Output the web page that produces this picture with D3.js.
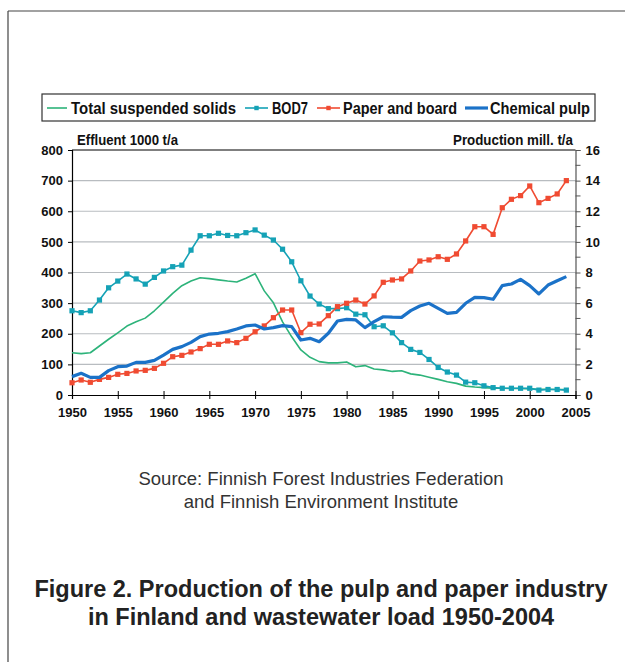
<!DOCTYPE html>
<html>
<head>
<meta charset="utf-8">
<script src="https://cdn.jsdelivr.net/npm/d3@7"></script>
<style>
  body { margin: 0; background: #fff; }
  svg { display: block; }
  text { font-family: "Liberation Sans", Arial, sans-serif; }
</style>
</head>
<body>
<svg id="canvas" width="625" height="662"></svg>
<script>
// years on the x axis
let years = [1950, 1951, 1952, 1953, 1954, 1955, 1956, 1957, 1958, 1959,
  1960, 1961, 1962, 1963, 1964, 1965, 1966, 1967, 1968, 1969,
  1970, 1971, 1972, 1973, 1974, 1975, 1976, 1977, 1978, 1979,
  1980, 1981, 1982, 1983, 1984, 1985, 1986, 1987, 1988, 1989,
  1990, 1991, 1992, 1993, 1994, 1995, 1996, 1997, 1998, 1999,
  2000, 2001, 2002, 2003, 2004]

// effluent, 1000 t/a (left axis)
let totalSuspendedSolids = [138, 135, 138, 160, 182, 203, 225, 239, 251, 275,
  303, 332, 357, 372, 383, 380, 376, 372, 369, 381,
  396, 340, 301, 239, 190, 147, 123, 109, 105, 105,
  108, 92, 96, 85, 82, 77, 79, 69, 65, 58,
  51, 43, 38, 29, 26, 24, 22, 22, 21, 21,
  20, 19, 19, 18, 18]

let bod7 = [275, 269, 275, 310, 350, 372, 395, 379, 362, 384,
  405, 419, 424, 473, 520, 520, 528, 521, 520, 530,
  539, 522, 506, 476, 435, 373, 323, 297, 282, 282,
  285, 264, 262, 223, 226, 203, 171, 149, 139, 116,
  90, 75, 65, 42, 40, 30, 24, 22, 22, 22,
  22, 16, 18, 18, 16]

// production, mill. t/a (right axis)
let paperAndBoard = [0.80, 0.98, 0.83, 1.02, 1.15, 1.35, 1.41, 1.57, 1.61, 1.74,
  2.07, 2.50, 2.59, 2.81, 3.03, 3.31, 3.31, 3.53, 3.42, 3.70,
  4.13, 4.51, 5.05, 5.55, 5.55, 4.07, 4.62, 4.64, 5.18, 5.77,
  5.99, 6.20, 5.94, 6.47, 7.36, 7.51, 7.58, 8.10, 8.75, 8.82,
  9.03, 8.86, 9.21, 10.06, 10.99, 10.99, 10.49, 12.23, 12.78, 13.02,
  13.65, 12.56, 12.84, 13.13, 14.00]

let chemicalPulp = [1.20, 1.42, 1.15, 1.15, 1.59, 1.85, 1.89, 2.13, 2.13, 2.26,
  2.61, 2.98, 3.16, 3.44, 3.81, 3.98, 4.03, 4.14, 4.31, 4.51,
  4.57, 4.31, 4.40, 4.53, 4.46, 3.59, 3.70, 3.48, 4.03, 4.83,
  4.94, 4.90, 4.40, 4.79, 5.11, 5.08, 5.07, 5.51, 5.81, 5.99,
  5.66, 5.33, 5.40, 5.99, 6.38, 6.36, 6.25, 7.14, 7.25, 7.55,
  7.14, 6.60, 7.18, 7.46, 7.73]

let xTicks = [1950, 1955, 1960, 1965, 1970, 1975, 1980, 1985, 1990, 1995, 2000, 2005]
let leftTicks = [0, 100, 200, 300, 400, 500, 600, 700, 800]
let rightTicks = [0, 2, 4, 6, 8, 10, 12, 14, 16]
let rightMinorTicks = [1, 3, 5, 7, 9, 11, 13, 15]

let legendNames = ['Total suspended solids', 'BOD7', 'Paper and board', 'Chemical pulp']

let canvas = d3.select('#canvas')

let x = d3.scaleLinear().domain([1950, 2005]).range([72, 575.5])
let yLeft = d3.scaleLinear().domain([0, 800]).range([395, 150])
let yRight = d3.scaleLinear().domain([0, 16]).range([395, 150])

// frame round the figure
canvas.append('line').attr('x1', 8).attr('y1', 11).attr('x2', 625).attr('y2', 11)
  .attr('stroke', '#444').attr('stroke-width', 1.2)
canvas.append('line').attr('x1', 8).attr('y1', 11).attr('x2', 8).attr('y2', 662)
  .attr('stroke', '#444').attr('stroke-width', 1.2)

// gridlines
canvas.append('g')
  .selectAll('line')
  .data(leftTicks.filter(d => d > 0 && d < 800))
  .enter()
  .append('line')
  .attr('x1', x(1950)).attr('x2', x(2005))
  .attr('y1', d => yLeft(d)).attr('y2', d => yLeft(d))
  .attr('stroke', '#b8bcc0').attr('stroke-width', 1.2)

// top border of plot
canvas.append('line')
  .attr('x1', x(1950)).attr('x2', x(2005))
  .attr('y1', yLeft(800)).attr('y2', yLeft(800))
  .attr('stroke', '#000').attr('stroke-width', 1.2)

// left axis
let leftAxis = d3.axisLeft(yLeft).tickValues(leftTicks).tickSize(4).tickPadding(5)
let gLeft = canvas.append('g').attr('transform', 'translate(' + x(1950) + ',0)').call(leftAxis)
gLeft.select('.domain').attr('stroke', '#000').attr('stroke-width', 1.2)
gLeft.selectAll('.tick line').attr('stroke', '#000')
gLeft.selectAll('text').attr('font-size', 13).attr('font-weight', 'bold').attr('fill', '#111')
  .attr('font-family', '"Liberation Sans", Arial, sans-serif')

// right axis with minor ticks
let rightAxis = d3.axisRight(yRight).tickValues(rightTicks).tickSize(5).tickPadding(5)
let gRight = canvas.append('g').attr('transform', 'translate(' + x(2005) + ',0)').call(rightAxis)
gRight.select('.domain').attr('stroke', '#555').attr('stroke-width', 1.2)
gRight.selectAll('.tick line').attr('stroke', '#555')
gRight.selectAll('text').attr('font-size', 13).attr('font-weight', 'bold').attr('fill', '#111')
  .attr('font-family', '"Liberation Sans", Arial, sans-serif')
canvas.append('g')
  .selectAll('line')
  .data(rightMinorTicks)
  .enter()
  .append('line')
  .attr('x1', x(2005)).attr('x2', x(2005) + 5)
  .attr('y1', d => yRight(d)).attr('y2', d => yRight(d))
  .attr('stroke', '#555')

// bottom axis, ticks crossing the line
let bottomAxis = d3.axisBottom(x).tickValues(xTicks).tickFormat(d3.format('d')).tickSize(4).tickPadding(9)
let gBottom = canvas.append('g').attr('transform', 'translate(0,' + yLeft(0) + ')').call(bottomAxis)
gBottom.select('.domain').attr('stroke', '#000').attr('stroke-width', 1.2)
gBottom.selectAll('.tick line').attr('y1', -4).attr('y2', 4).attr('stroke', '#000')
gBottom.selectAll('text').attr('font-size', 13).attr('font-weight', 'bold').attr('fill', '#111')
  .attr('font-family', '"Liberation Sans", Arial, sans-serif')

// axis titles (condensed face squeezed to the original widths)
canvas.append('text').attr('x', 77).attr('y', 145)
  .attr('font-size', 14).attr('font-weight', 'bold').attr('fill', '#111')
  .attr('textLength', 101).attr('lengthAdjust', 'spacingAndGlyphs')
  .text('Effluent 1000 t/a')
canvas.append('text').attr('x', 453).attr('y', 145)
  .attr('font-size', 14).attr('font-weight', 'bold').attr('fill', '#111')
  .attr('textLength', 120).attr('lengthAdjust', 'spacingAndGlyphs')
  .text('Production mill. t/a')

// series lines
let lineLeft = d3.line().x((d, i) => x(years[i])).y(d => yLeft(d))
let lineRight = d3.line().x((d, i) => x(years[i])).y(d => yRight(d))

let series = [
  { values: totalSuspendedSolids, line: lineLeft, scale: yLeft, color: '#2db37a', width: 1.6, marker: false },
  { values: bod7, line: lineLeft, scale: yLeft, color: '#15a2b6', width: 1.6, marker: true },
  { values: paperAndBoard, line: lineRight, scale: yRight, color: '#f04b32', width: 1.6, marker: true },
  { values: chemicalPulp, line: lineRight, scale: yRight, color: '#1b72c8', width: 3.2, marker: false }
]

series.forEach((s) => {
  canvas.append('path')
    .attr('d', s.line(s.values))
    .attr('fill', 'none')
    .attr('stroke', s.color)
    .attr('stroke-width', s.width)
    .attr('stroke-linejoin', 'round')
  if (s.marker) {
    canvas.append('g')
      .selectAll('rect')
      .data(s.values)
      .enter()
      .append('rect')
      .attr('x', (d, i) => x(years[i]) - 2.6)
      .attr('y', d => s.scale(d) - 2.6)
      .attr('width', 5.2)
      .attr('height', 5.2)
      .attr('fill', s.color)
  }
})

// legend
let legend = canvas.append('g')
legend.append('rect').attr('x', 42).attr('y', 94).attr('width', 553).attr('height', 27)
  .attr('fill', '#fff').attr('stroke', '#333').attr('stroke-width', 1.2)

let legendItems = [
  { name: legendNames[0], x1: 47, x2: 67, tx: 71, tw: 165, color: '#2db37a', width: 1.6, marker: false },
  { name: legendNames[1], x1: 245, x2: 268, tx: 272, tw: 36, color: '#15a2b6', width: 1.6, marker: true },
  { name: legendNames[2], x1: 317, x2: 340, tx: 343, tw: 114, color: '#f04b32', width: 1.6, marker: true },
  { name: legendNames[3], x1: 465, x2: 488, tx: 490, tw: 100, color: '#1b72c8', width: 3.2, marker: false }
]
legendItems.forEach((it) => {
  legend.append('line').attr('x1', it.x1).attr('x2', it.x2).attr('y1', 108).attr('y2', 108)
    .attr('stroke', it.color).attr('stroke-width', it.width)
  if (it.marker) {
    legend.append('rect').attr('x', (it.x1 + it.x2) / 2 - 2.2).attr('y', 105.8)
      .attr('width', 4.4).attr('height', 4.4).attr('fill', it.color)
  }
  legend.append('text').attr('x', it.tx).attr('y', 114)
    .attr('font-size', 16).attr('font-weight', 'bold').attr('fill', '#111')
    .attr('textLength', it.tw).attr('lengthAdjust', 'spacingAndGlyphs')
    .text(it.name)
})

// source note
canvas.append('text').attr('x', 321).attr('y', 485).attr('text-anchor', 'middle')
  .attr('font-size', 18.5).attr('fill', '#333')
  .text('Source: Finnish Forest Industries Federation')
canvas.append('text').attr('x', 321).attr('y', 508).attr('text-anchor', 'middle')
  .attr('font-size', 18.5).attr('fill', '#333')
  .text('and Finnish Environment Institute')

// figure title
canvas.append('text').attr('x', 321).attr('y', 597).attr('text-anchor', 'middle')
  .attr('font-size', 23.5).attr('font-weight', 'bold').attr('fill', '#222')
  .text('Figure 2. Production of the pulp and paper industry')
canvas.append('text').attr('x', 321).attr('y', 625).attr('text-anchor', 'middle')
  .attr('font-size', 23.5).attr('font-weight', 'bold').attr('fill', '#222')
  .text('in Finland and wastewater load 1950-2004')
</script>
</body>
</html>
